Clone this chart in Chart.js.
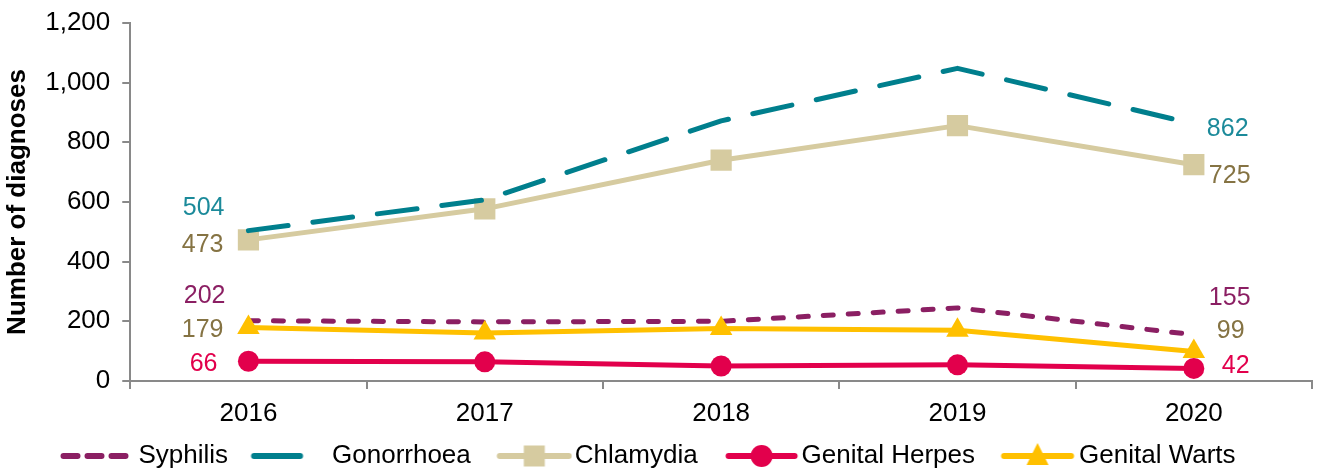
<!DOCTYPE html>
<html>
<head>
<meta charset="utf-8">
<script src="https://cdn.jsdelivr.net/npm/chart.js@4.4.1/dist/chart.umd.min.js"></script>
<style>
  html, body { margin: 0; padding: 0; background: #fff; overflow: hidden; }
  #stiChart { display: block; }
</style>
</head>
<body>
<canvas id="stiChart" width="1320" height="469"></canvas>
<script>
/* Data */
let years = ['2016', '2017', '2018', '2019', '2020']
let syphilis = [202, 198, 200, 245, 155]
let gonorrhoea = [504, 607, 872, 1048, 862]
let chlamydia = [473, 577, 740, 856, 725]
let genitalHerpes = [66, 64, 50, 54, 42]
let genitalWarts = [179, 161, 176, 170, 99]
let yTicks = [0, 200, 400, 600, 800, 1000, 1200]

let fontName = '"Liberation Sans", Arial, sans-serif'
let axisGrey = '#898989'

// legend item box width and the wider sample canvas centred on it;
// the legend text starts at canvas x = textAt
let legendBoxW = 87
let legendCanvasW = 108
let textAt = legendCanvasW / 2 + legendBoxW / 2 + 13

function legendSample(color, dash, marker, markerSize, len, gap) {
    let c = document.createElement('canvas')
    c.width = legendCanvasW
    c.height = 26
    let g = c.getContext('2d')
    let x1 = textAt - gap, x0 = x1 - len, y = 13
    g.strokeStyle = color
    g.fillStyle = color
    g.lineWidth = 6
    g.lineCap = 'round'
    g.setLineDash(dash)
    g.beginPath()
    g.moveTo(x0 + 3, y)
    g.lineTo(x1 - 3, y)
    g.stroke()
    g.setLineDash([])
    let cx = (x0 + x1) / 2
    if (marker === 'rect') {
        g.fillRect(cx - markerSize / 2, y - markerSize / 2, markerSize, markerSize)
    } else if (marker === 'circle') {
        g.beginPath()
        g.arc(cx, y, markerSize / 2, 0, Math.PI * 2)
        g.fill()
    } else if (marker === 'triangle') {
        g.beginPath()
        g.moveTo(cx, y - markerSize / 2 - 2)
        g.lineTo(cx + markerSize / 2, y + markerSize / 2 - 2)
        g.lineTo(cx - markerSize / 2, y + markerSize / 2 - 2)
        g.closePath()
        g.fill()
    }
    return c
}

let series = [
    { label: 'Syphilis', data: syphilis, color: '#8B1F63', labelColor: '#8B1F63',
      dash: [10, 15], width: 5, point: false, order: 3,
      legend: { dash: [14, 10], len: 70, gap: 8 },
      start: { dx: -23, dy: -25 }, end: { dx: 15, dy: -37 } },
    { label: 'Gonorrhoea', data: gonorrhoea, color: '#007F8D', labelColor: '#1B8A9A',
      dash: [40, 25], width: 5, point: false, order: 1,
      legend: { dash: [], len: 52, gap: 29 },
      start: { dx: -24, dy: -23 }, end: { dx: 13, dy: 5 } },
    { label: 'Chlamydia', data: chlamydia, color: '#D6CBA0', labelColor: '#857343',
      dash: [], width: 5, point: 'rect', radius: 15, order: 2,
      legend: { dash: [], len: 75, gap: 3, marker: 'rect', size: 21 },
      start: { dx: -25, dy: 5 }, end: { dx: 15, dy: 11 } },
    { label: 'Genital Herpes', data: genitalHerpes, color: '#E2004C', labelColor: '#E2004C',
      dash: [], width: 5, point: 'circle', radius: 10.5, order: 4,
      legend: { dash: [], len: 72, gap: 4, marker: 'circle', size: 22 },
      start: { dx: -31, dy: 3 }, end: { dx: 28, dy: -2 } },
    { label: 'Genital Warts', data: genitalWarts, color: '#FFC000', labelColor: '#857343',
      dash: [], width: 5, point: 'triangle', radius: 13, order: 0,
      legend: { dash: [], len: 73, gap: 5, marker: 'triangle', size: 22 },
      start: { dx: -25, dy: 3 }, end: { dx: 23, dy: -20 } }
]

let datasets = series.map(function (s) {
    return {
        label: s.label,
        data: s.data,
        borderColor: s.color,
        backgroundColor: s.color,
        borderWidth: s.width,
        borderDash: s.dash,
        borderCapStyle: s.dash.length ? 'round' : 'butt',
        borderJoinStyle: 'round',
        pointStyle: s.point || 'circle',
        pointRadius: s.point ? s.radius : 0,
        pointHoverRadius: s.point ? s.radius : 0,
        pointBackgroundColor: s.color,
        pointBorderWidth: 0,
        tension: 0,
        order: s.order
    }
})

// draws the first and last value of each line next to its point
let endLabels = {
    id: 'endLabels',
    afterDatasetsDraw(chart) {
        let ctx = chart.ctx
        ctx.save()
        ctx.font = '25px ' + fontName
        ctx.textBaseline = 'middle'
        series.forEach(function (s, i) {
            let pts = chart.getDatasetMeta(i).data
            let first = pts[0], last = pts[pts.length - 1]
            ctx.fillStyle = s.labelColor
            ctx.textAlign = 'right'
            ctx.fillText(s.data[0].toLocaleString('en-US'), first.x + s.start.dx, first.y + s.start.dy)
            ctx.textAlign = 'left'
            ctx.fillText(s.data[s.data.length - 1].toLocaleString('en-US'), last.x + s.end.dx, last.y + s.end.dy)
        })
        ctx.restore()
    }
}

// legend in the original sits a little left of centre
let legendShift = {
    id: 'legendShift',
    afterLayout(chart) {
        chart.legend.left -= 19
        chart.legend.right -= 19
    }
}

let chartCanvas = document.querySelector('#stiChart')
let ctx = chartCanvas.getContext('2d')

let stiChart = new Chart(ctx, {
    type: 'line',
    data: { labels: years, datasets: datasets },
    options: {
        responsive: false,
        animation: false,
        devicePixelRatio: 1,
        layout: { autoPadding: false, padding: { top: 0, right: 8, bottom: -10, left: 0 } },
        plugins: {
            tooltip: { enabled: false },
            legend: {
                position: 'bottom',
                labels: {
                    usePointStyle: true,
                    pointStyleWidth: legendBoxW,
                    boxHeight: 26,
                    padding: 4,
                    color: '#000',
                    font: { family: fontName, size: 26 },
                    generateLabels: function (chart) {
                        return series.map(function (s, i) {
                            let l = s.legend
                            return {
                                text: s.label,
                                pointStyle: legendSample(s.color, l.dash, l.marker, l.size, l.len, l.gap),
                                fillStyle: s.color,
                                strokeStyle: s.color,
                                lineWidth: 0,
                                hidden: false,
                                datasetIndex: i,
                                fontColor: '#000'
                            }
                        })
                    }
                }
            }
        },
        scales: {
            x: {
                offset: true,
                afterFit: function (scale) {
                    scale.paddingLeft = 0
                    scale.paddingRight = 0
                },
                grid: { display: true, drawOnChartArea: false, offset: true, color: axisGrey, lineWidth: 2, tickLength: 8 },
                border: { display: true, color: axisGrey, width: 2 },
                ticks: { color: '#000', padding: 5, font: { family: fontName, size: 26, lineHeight: 1.54 } }
            },
            y: {
                min: 0,
                max: 1200,
                afterBuildTicks: function (scale) {
                    scale.ticks = yTicks.map(function (v) { return { value: v } })
                },
                afterFit: function (scale) {
                    scale.paddingTop = 23
                },
                grid: { display: true, drawOnChartArea: false, color: axisGrey, lineWidth: 2, tickLength: 8 },
                border: { display: true, color: axisGrey, width: 2 },
                ticks: {
                    color: '#000',
                    padding: 12,
                    font: { family: fontName, size: 26 },
                    callback: function (v) { return Number(v).toLocaleString('en-US') }
                },
                title: {
                    display: true,
                    text: 'Number of diagnoses',
                    color: '#000',
                    padding: { top: 2, bottom: 0 },
                    font: { family: fontName, size: 26, weight: 'bold' }
                }
            }
        }
    },
    plugins: [endLabels, legendShift]
})
</script>
</body>
</html>
